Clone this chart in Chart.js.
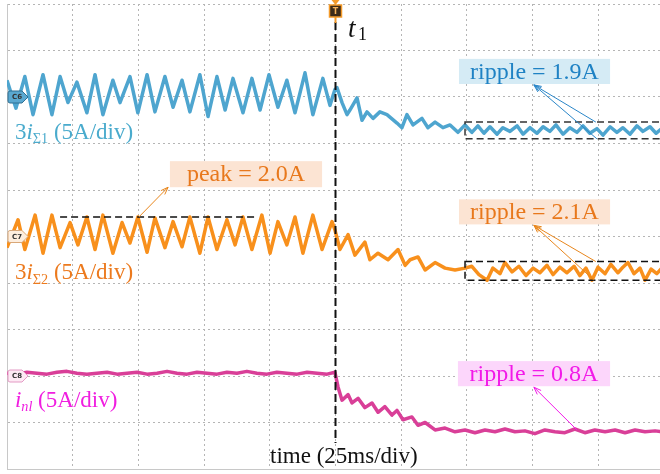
<!DOCTYPE html>
<html>
<head>
<meta charset="utf-8">
<script src="https://cdn.jsdelivr.net/npm/chart.js@4.4.1/dist/chart.umd.min.js"></script>
<style>
  html, body { margin: 0; padding: 0; background: #fff; }
</style>
</head>
<body>
<canvas id="scope" width="660" height="474"></canvas>
<script>
// time in ms (25 ms/div), currents in A on screen (5 A/div, channel offsets 40 / 25 / 10 A)
var iS1Time = [0, 3.4, 6.8, 9.9, 13.7, 17.1, 20.2, 23.2, 26.6, 30.4, 33.5, 36.5, 40.3, 43.0, 46.8, 49.8, 53.3, 56.3, 60.1, 63.2,
  66.6, 69.6, 73.4, 76.5, 79.9, 83.0, 86.0, 89.8, 93.2, 96.3, 99.7, 103.1, 106.5, 109.6, 113.4, 116.4, 120.2, 122.9, 124.8,
  125.6, 127.5, 129.4, 130.5, 133.2, 135.1, 137.0, 139.3, 141.9, 144.6, 148.4, 150.3, 152.2, 154.5, 157.9, 160.2, 162.9, 165.9, 168.6, 171.6, 174.3, 176.9,
  179.2, 181.5, 183.8, 186.5, 188.7, 191.4, 194.1, 196.4, 199.0, 201.7, 204.0, 206.6, 208.9, 211.6, 214.2, 216.9, 219.2, 221.8, 224.5, 226.8,
  229.5, 232.1, 234.4, 237.1, 239.7, 242.0, 244.7, 247.0, 249.2];
var iS1Amp = [41.8, 38.8, 42.2, 38.1, 42.4, 38.1, 42.2, 39.4, 41.6, 38.3, 42.4, 38.1, 41.8, 39.4, 42.2, 38.3, 42.4, 38.4, 42.2, 38.9,
  41.8, 38.4, 42.4, 37.9, 42.2, 38.6, 42.0, 38.3, 42.0, 38.6, 42.4, 38.9, 41.8, 38.3, 42.6, 38.1, 42.0, 39.1, 40.8,
  41.0, 39.4, 38.1, 38.6, 39.9, 37.5, 38.4, 37.7, 38.4, 38.1, 37.2, 36.7, 38.1, 37.0, 37.7, 36.7, 37.3, 36.7, 37.0, 36.2, 37.0, 36.2,
  36.9, 36.1, 36.8, 36.0, 36.7, 36.3, 36.9, 36.0, 36.7, 36.1, 36.8, 36.3, 37.0, 36.0, 36.7, 36.2, 36.9, 36.1, 36.6, 35.9,
  36.8, 36.2, 36.7, 36.0, 36.9, 36.3, 36.8, 36.1, 36.6];

var iS2Time = [0, 4.2, 6.8, 10.7, 13.7, 17.1, 20.2, 24.0, 27.0, 30.4, 33.5, 36.5, 40.3, 43.8, 46.8, 49.8, 53.3, 56.3, 60.1, 63.2,
  66.6, 69.6, 73.4, 76.5, 79.9, 83.7, 86.8, 89.8, 93.2, 97.0, 100.1, 103.1, 106.5, 109.6, 112.6, 116.4, 119.9, 123.7,
  124.8, 126.7, 129.8, 132.4, 136.2, 138.1, 141.2, 145.0, 148.8, 151.5, 153.4, 156.4, 159.1, 162.9, 166.7, 170.5, 174.3, 176.9, 179.6, 182.7,
  184.9, 187.6, 189.5, 192.2, 194.8, 197.5, 200.2, 202.8, 205.5, 207.8, 210.4, 213.1, 215.8, 218.0, 220.3, 222.6, 224.9, 227.6, 229.8, 232.5,
  234.4, 236.3, 238.6, 240.9, 242.8, 245.1, 247.3, 249.2];
var iS2Amp = [23.8, 26.8, 23.6, 27.3, 23.2, 27.3, 23.8, 26.5, 24.1, 27.1, 23.6, 27.3, 23.2, 26.5, 24.3, 27.1, 23.3, 27.0, 23.8, 26.6,
  23.9, 27.1, 23.2, 27.1, 23.6, 26.8, 24.1, 27.1, 23.6, 27.3, 23.2, 26.6, 24.1, 27.1, 23.2, 27.3, 23.6, 26.6,
  25.7, 23.6, 25.2, 23.0, 24.4, 22.5, 23.2, 22.5, 23.6, 21.9, 22.5, 22.8, 21.4, 22.2, 21.6, 21.4, 21.6, 21.8, 20.9, 20.3,
  21.6, 21.0, 22.2, 21.2, 21.8, 20.8, 21.6, 21.1, 21.9, 20.9, 21.7, 21.1, 21.8, 20.8, 21.6, 20.3, 21.7, 21.0, 22.0, 21.1,
  21.7, 22.2, 21.0, 21.6, 20.3, 21.5, 21.0, 21.6];

var inlTime = [0, 3.8, 7.6, 11.4, 15.2, 19.0, 22.8, 26.6, 30.4, 34.2, 38.1, 41.9, 45.7, 49.5, 53.3, 57.1, 60.9, 64.7, 68.5, 72.3,
  76.1, 79.9, 83.7, 87.5, 91.3, 95.1, 98.9, 102.7, 106.5, 110.4, 114.2, 118.0, 121.8, 124.8,
  126.0, 127.5, 129.8, 131.3, 133.6, 136.2, 138.9, 141.2, 143.8, 146.5, 148.4, 150.7, 154.1, 156.4, 159.1, 162.9, 166.7, 170.5, 174.3, 178.1,
  181.9, 185.7, 189.5, 193.3, 197.1, 200.9, 204.7, 208.5, 212.3, 216.1, 219.9, 223.7, 227.6, 231.4, 235.2, 239.0, 242.8, 246.6, 249.2];
var inlAmp = [10.3, 10.2, 10.4, 10.3, 10.2, 10.4, 10.5, 10.3, 10.2, 10.3, 10.4, 10.2, 10.3, 10.4, 10.2, 10.3, 10.5, 10.3, 10.2, 10.4,
  10.3, 10.2, 10.4, 10.3, 10.5, 10.3, 10.2, 10.4, 10.3, 10.2, 10.4, 10.3, 10.2, 10.4,
  8.8, 7.4, 8.0, 7.1, 7.6, 6.6, 7.1, 6.1, 6.7, 5.8, 6.3, 5.3, 5.6, 4.7, 5.0, 4.2, 4.4, 4.0, 4.2, 3.9,
  4.2, 4.0, 4.3, 4.0, 4.1, 3.8, 4.2, 4.0, 3.9, 4.3, 3.9, 4.2, 4.0, 4.2, 3.9, 4.2, 4.0, 4.1, 4.0];

var triggerTime = 125;
var channelOffsets = [40, 25, 10];

var blue = '#4ea5cf', orange = '#f8901c', magenta = '#d93f98';

function toPoints(ts, vs) {
  return ts.map(function (t, i) { return { x: t, y: vs[i] }; });
}

function trace(data, color) {
  return {
    data: data,
    borderColor: color,
    borderWidth: 3.5,
    pointRadius: 0,
    tension: 0,
    borderJoinStyle: 'round',
    fill: false
  };
}

// draws text made of plain / italic / subscript pieces
function richText(ctx, x, y, parts, size, color) {
  ctx.fillStyle = color;
  ctx.textAlign = 'left';
  ctx.textBaseline = 'alphabetic';
  parts.forEach(function (p) {
    var s = p.sub ? size * 0.62 : size;
    ctx.font = (p.it ? 'italic ' : '') + s + 'px "Liberation Serif"';
    ctx.fillText(p.t, x, y + (p.sub ? size * 0.2 : 0));
    x += ctx.measureText(p.t).width;
  });
}

function arrow(ctx, x1, y1, x2, y2, color) {
  var a = Math.atan2(y2 - y1, x2 - x1), h = 8;
  ctx.strokeStyle = color;
  ctx.lineWidth = 1;
  ctx.setLineDash([]);
  ctx.beginPath();
  ctx.moveTo(x1, y1); ctx.lineTo(x2, y2);
  ctx.moveTo(x2 - h * Math.cos(a - 0.35), y2 - h * Math.sin(a - 0.35));
  ctx.lineTo(x2, y2);
  ctx.lineTo(x2 - h * Math.cos(a + 0.35), y2 - h * Math.sin(a + 0.35));
  ctx.stroke();
}

function tag(ctx, x, yc, fill, stroke, label) {
  ctx.setLineDash([]);
  ctx.fillStyle = fill;
  ctx.strokeStyle = stroke;
  ctx.lineWidth = 1;
  ctx.beginPath();
  ctx.moveTo(x + 2, yc - 6);
  ctx.lineTo(x + 14, yc - 6);
  ctx.lineTo(x + 20, yc);
  ctx.lineTo(x + 14, yc + 6);
  ctx.lineTo(x + 2, yc + 6);
  ctx.quadraticCurveTo(x, yc + 6, x, yc + 4);
  ctx.lineTo(x, yc - 4);
  ctx.quadraticCurveTo(x, yc - 6, x + 2, yc - 6);
  ctx.closePath();
  ctx.fill();
  ctx.stroke();
  ctx.fillStyle = '#333';
  ctx.font = 'bold 7px "DejaVu Sans"';
  ctx.textAlign = 'center';
  ctx.textBaseline = 'middle';
  ctx.fillText(label, x + 9, yc + 0.5);
}

var overlay = {
  id: 'overlay',
  afterDatasetsDraw: function (chart) {
    var ctx = chart.ctx, X = chart.scales.x, Y = chart.scales.y;
    function px(t) { return X.getPixelForValue(t); }
    function py(a) { return Y.getPixelForValue(a); }
    ctx.save();

    // trigger line (stops above the time label)
    var tx = Math.round(px(triggerTime)) + 0.5;
    ctx.strokeStyle = '#111';
    ctx.lineWidth = 2;
    ctx.setLineDash([8, 4]);
    ctx.beginPath();
    ctx.moveTo(tx, 22); ctx.lineTo(tx, py(2.8));
    ctx.stroke();
    ctx.setLineDash([]);
    ctx.strokeStyle = '#f39a2a';
    ctx.beginPath(); ctx.moveTo(tx, 16); ctx.lineTo(tx, 23); ctx.stroke();
    ctx.fillStyle = '#f39a2a';
    ctx.beginPath(); ctx.moveTo(tx - 4, 0); ctx.lineTo(tx + 4, 0); ctx.lineTo(tx, 5); ctx.closePath(); ctx.fill();
    ctx.fillStyle = '#3b2a18';
    ctx.fillRect(tx - 6, 5, 12, 12);
    ctx.lineWidth = 1.5;
    ctx.strokeRect(tx - 6, 5, 12, 12);
    ctx.fillStyle = '#f6b25a';
    ctx.font = 'bold 8px "DejaVu Sans"';
    ctx.textAlign = 'center';
    ctx.textBaseline = 'middle';
    ctx.fillText('T', tx, 11.5);

    // t1 label
    richText(ctx, px(129.8), py(46.5), [{ t: 't', it: true }], 27, '#111');
    ctx.font = '18px "Liberation Serif"';
    ctx.fillText('1', px(133.6), py(46.1));

    // ripple windows and peak line
    ctx.strokeStyle = '#333';
    ctx.lineWidth = 1.5;
    ctx.setLineDash([7, 4]);
    ctx.strokeRect(px(174.3), py(37.3), px(250) - px(174.3), py(35.5) - py(37.3));
    ctx.strokeStyle = '#111';
    ctx.strokeRect(px(174.3), py(22.3), px(250) - px(174.3), py(20.3) - py(22.3));
    ctx.beginPath();
    ctx.moveTo(px(20.2), py(27.1)); ctx.lineTo(px(94.4), py(27.1));
    ctx.stroke();

    // value boxes
    function box(t0, t1, a0, a1, text, bg, color) {
      ctx.setLineDash([]);
      ctx.fillStyle = bg;
      ctx.fillRect(px(t0), py(a0), px(t1) - px(t0), py(a1) - py(a0));
      ctx.fillStyle = color;
      ctx.font = '24px "Liberation Serif"';
      ctx.textAlign = 'center';
      ctx.textBaseline = 'middle';
      ctx.fillText(text, (px(t0) + px(t1)) / 2, (py(a0) + py(a1)) / 2 + 1);
    }
    box(172.0, 229.5, 44.1, 41.4, 'ripple = 1.9A', '#d5ebf5', '#1f82c4');
    box(62.0, 119.9, 33.1, 30.3, 'peak = 2.0A', '#fce4d3', '#e8781c');
    box(172.0, 229.5, 29.0, 26.3, 'ripple = 2.1A', '#fce4d3', '#e8781c');
    box(171.6, 229.5, 11.6, 8.9, 'ripple = 0.8A', '#fcd6fb', '#f21ae8');

    arrow(ctx, px(224.1), py(37.3), px(200.5), py(41.3), '#2a86c8');
    arrow(ctx, px(224.5), py(35.5), px(200.5), py(41.3), '#2a86c8');
    arrow(ctx, px(50.2), py(27.1), px(61.3), py(30.3), '#e8861c');
    arrow(ctx, px(224.1), py(22.3), px(200.5), py(26.2), '#e8861c');
    arrow(ctx, px(223.4), py(20.3), px(200.5), py(26.2), '#e8861c');
    arrow(ctx, px(216.9), py(4.2), px(200.5), py(8.8), '#f21ae8');

    // channel tags
    tag(ctx, px(0) + 1, py(channelOffsets[0]), '#5aa8d0', '#2f6f92', 'C6');
    tag(ctx, px(0) + 1, py(channelOffsets[1]), '#fdeedf', '#d9a778', 'C7');
    tag(ctx, px(0) + 1, py(channelOffsets[2]), '#fdeaf4', '#e39ac4', 'C8');

    // channel labels
    richText(ctx, px(3.0), py(35.5), [{ t: '3' }, { t: 'i', it: true }, { t: 'Σ1', sub: true }, { t: ' (5A/div)' }], 23, '#4aabcd');
    richText(ctx, px(3.0), py(20.4), [{ t: '3' }, { t: 'i', it: true }, { t: 'Σ2', sub: true }, { t: ' (5A/div)' }], 23, '#ec7a1e');
    richText(ctx, px(3.0), py(6.7), [{ t: 'i', it: true }, { t: 'nl', it: true, sub: true }, { t: ' (5A/div)' }], 23, '#f01ee0');
    richText(ctx, px(100.1), py(0.65), [{ t: 'time (25ms/div)' }], 23, '#111');

    ctx.restore();
  }
};

new Chart(document.getElementById('scope'), {
  type: 'line',
  data: {
    datasets: [
      trace(toPoints(iS1Time, iS1Amp), blue),
      trace(toPoints(iS2Time, iS2Amp), orange),
      trace(toPoints(inlTime, inlAmp), magenta)
    ]
  },
  options: {
    responsive: false,
    animation: false,
    devicePixelRatio: 1,
    layout: { padding: { left: 7, top: 4, right: 0, bottom: 5 } },
    plugins: { legend: { display: false }, tooltip: { enabled: false } },
    scales: {
      x: {
        type: 'linear', min: 0, max: 248.5,
        ticks: { display: false, stepSize: 25 },
        grid: { color: '#b5b5b5', lineWidth: 1, drawTicks: false },
        border: { display: true, color: '#c8c8c8', width: 1, dash: [2, 3] }
      },
      y: {
        min: 0, max: 50,
        ticks: { display: false, stepSize: 5 },
        grid: { color: '#b5b5b5', lineWidth: 1, drawTicks: false },
        border: { display: true, color: '#c8c8c8', width: 1, dash: [2, 3] }
      }
    }
  },
  plugins: [overlay]
});
</script>
</body>
</html>
